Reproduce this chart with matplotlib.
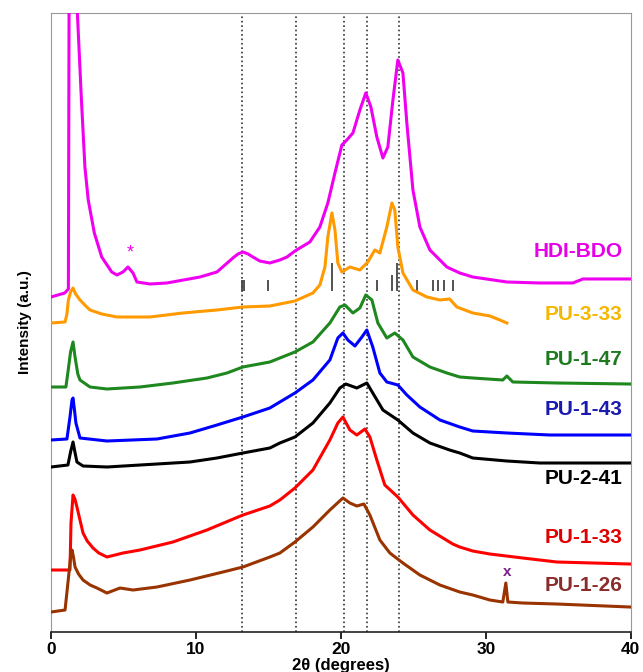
import numpy as np
import matplotlib.pyplot as plt

plt.rcParams['font.family'] = ['Liberation Sans', 'DejaVu Sans']

# patterns: 2theta (deg) and stacked intensity (a.u.)
hdi_x = [0.0, 0.95, 1.2, 1.26, 1.5, 1.75, 1.82, 2.1, 2.34, 2.57, 2.99, 3.5, 4.19, 4.55, 4.97,
         5.31, 5.66, 5.93, 6.83, 8.0, 10.28, 11.45, 12.55, 12.9, 13.24, 13.6, 13.93, 14.4,
         15.1, 15.79, 16.28, 16.83, 17.86, 18.55, 19.1, 19.59, 20.07, 20.41, 20.83, 21.31,
         21.72, 22.07, 22.48, 22.9, 23.24, 23.59, 23.93, 24.28, 24.55, 24.97, 25.45, 26.14,
         27.31, 28.2, 29.1, 31.45, 33.72, 36.0, 36.7, 39.95]
hdi_y = [335, 339, 343, 700, 900, 700, 619, 532, 465, 432, 399, 375, 360, 357, 360,
         365, 359, 350, 348, 349, 355, 360, 374, 378, 380, 378, 375, 371,
         369, 372, 375, 381, 390, 405, 429, 459, 487, 492, 499, 522,
         539, 525, 495, 474, 485, 532, 572, 559, 509, 442, 405, 382,
         365, 359, 355, 350, 349, 349, 353, 353]

pu333_x = [0.0, 0.97, 1.1, 1.2, 1.35, 1.52, 1.7, 2.0, 2.4, 2.69, 3.5, 4.55, 6.83, 9.1, 11.45,
           13.24, 15.1, 15.79, 16.83, 18.07, 18.55, 18.9, 19.1, 19.38, 19.59, 19.79, 20.07,
           20.62, 21.31, 21.86, 22.34, 22.69, 23.17, 23.52, 23.72, 23.93, 24.28, 24.97, 25.93,
           26.83, 27.5, 28.0, 29.1, 30.28, 30.97, 31.45]
pu333_y = [309, 310, 318, 332, 340, 344, 338, 332, 326, 322, 318, 315, 315, 319, 322,
           325, 326, 328, 331, 339, 347, 365, 395, 419, 402, 369, 360,
           365, 362, 370, 382, 379, 405, 429, 422, 385, 359, 342, 335,
           332, 333, 325, 319, 316, 312, 309]

pu147_x = [0.0, 1.03, 1.17, 1.35, 1.52, 1.66, 1.85, 2.0, 2.69, 3.86, 6.14, 8.41, 10.76, 12.14,
           13.24, 15.1, 15.79, 16.83, 18.07, 19.24, 19.93, 20.28, 20.83, 21.31, 21.72, 22.14,
           22.55, 23.17, 23.72, 24.28, 24.97, 26.14, 27.31, 28.2, 29.1, 31.17, 31.45, 31.86,
           34.9, 39.95]
pu147_y = [245, 245, 260, 280, 290, 275, 258, 252, 245, 243, 245, 249, 254, 259,
           265, 270, 274, 280, 290, 309, 325, 327, 319, 324, 337, 332,
           309, 294, 299, 292, 275, 265, 259, 255, 254, 252, 256, 250,
           249, 248]

pu143_x = [0.0, 1.1, 1.31, 1.45, 1.52, 1.62, 1.72, 2.0, 3.86, 7.31, 9.59, 11.45, 13.24, 15.1,
           15.79, 16.83, 18.07, 19.24, 19.79, 20.14, 20.48, 20.97, 21.45, 21.79, 22.2, 22.69,
           23.17, 23.93, 24.55, 25.45, 26.83, 28.2, 29.1, 31.45, 34.41, 39.95]
pu143_y = [192, 193, 215, 232, 234, 222, 209, 194, 191, 193, 199, 207, 215, 224,
           230, 239, 252, 272, 294, 299, 292, 286, 295, 302, 285, 259,
           250, 247, 237, 225, 212, 205, 201, 199, 197, 197]

pu241_x = [0.0, 1.17, 1.35, 1.52, 1.65, 1.79, 2.21, 3.86, 7.31, 9.59, 11.45, 13.24, 15.1,
           15.79, 16.83, 18.07, 19.24, 19.93, 20.34, 21.1, 21.79, 22.2, 22.9, 23.93, 24.97,
           26.14, 27.5, 28.2, 29.1, 31.45, 33.72, 39.95]
pu241_y = [165, 167, 180, 190, 180, 170, 166, 165, 168, 170, 174, 179, 184,
           189, 195, 209, 229, 244, 248, 244, 249, 239, 222, 212, 199,
           189, 182, 179, 174, 171, 169, 169]

pu133_x = [0.0, 1.31, 1.38, 1.52, 1.65, 1.79, 2.0, 2.21, 2.5, 2.9, 3.3, 3.86, 4.97, 6.14, 8.41,
           10.76, 13.24, 15.1, 15.79, 16.83, 18.07, 19.24, 19.79, 20.14, 20.62, 21.1, 21.66,
           22.0, 22.48, 23.03, 23.93, 24.97, 26.14, 27.72, 28.2, 29.1, 30.28, 32.55, 34.9, 39.95]
pu133_y = [62, 62, 109, 137, 133, 125, 112, 99, 91, 84, 79, 75, 79, 82, 90,
           102, 117, 126, 132, 144, 162, 192, 209, 215, 202, 197, 203,
           195, 172, 147, 135, 117, 102, 88, 85, 81, 78, 74, 70, 68]

pu126_x = [0.0, 0.97, 1.24, 1.35, 1.45, 1.55, 1.66, 1.9, 2.21, 2.7, 3.17, 3.86, 4.76, 5.66,
           7.31, 9.59, 11.86, 13.24, 15.1, 15.79, 16.83, 18.07, 19.24, 20.14, 20.62, 21.1,
           21.59, 22.0, 22.69, 23.38, 24.28, 25.45, 26.83, 28.2, 29.1, 30.28, 31.17, 31.38,
           31.52, 32.55, 34.9, 39.95]
pu126_y = [20, 22, 59, 75, 82, 75, 65, 58, 52, 47, 44, 39, 44, 42,
           45, 52, 60, 65, 75, 79, 90, 105, 122, 134, 129, 126,
           128, 117, 92, 79, 69, 57, 47, 40, 37, 32, 30, 49,
           30, 29, 28, 25]

series = [
    (hdi_x, hdi_y, '#f000f0', 'HDI-BDO', '#e600e6', 380),
    (pu333_x, pu333_y, '#ff9a00', 'PU-3-33', '#f5b800', 317),
    (pu147_x, pu147_y, '#1e871e', 'PU-1-47', '#1e7a1e', 272),
    (pu143_x, pu143_y, '#0000ff', 'PU-1-43', '#1a1ab0', 222),
    (pu241_x, pu241_y, '#000000', 'PU-2-41', '#000000', 154),
    (pu133_x, pu133_y, '#ff0000', 'PU-1-33', '#e00000', 95),
    (pu126_x, pu126_y, '#993300', 'PU-1-26', '#8b2c2c', 47),
]

# guide lines and HDI-BDO reflection positions
guide_lines = [13.2, 16.9, 20.2, 21.8, 24.0]
refl_pos = [13.15, 13.3, 15.0, 19.4, 22.5, 23.5, 23.9, 25.25, 26.35, 26.7, 27.1, 27.75]
refl_top = [352, 352, 352, 369, 352, 357, 369, 352, 352, 352, 352, 352]

fig = plt.figure(figsize=(6.43, 6.72), dpi=100)
ax = fig.add_axes([0.0793, 0.0595, 0.9017, 0.9212])

for gx in guide_lines:
    ax.axvline(gx, color='#333333', ls=':', lw=1.2, zorder=1)

ax.vlines(refl_pos, 341, refl_top, color='#444444', lw=1.3, zorder=2)

for x, y, c, name, tc, ty in series:
    ax.plot(x, y, color=c, lw=2.2, zorder=3, solid_joinstyle='round')
    ax.text(39.45, ty, name, color=tc, fontsize=15, fontweight='bold',
            ha='right', va='center')

ax.text(5.45, 379, '*', color='#f000f0', fontsize=13, ha='center', va='center')
ax.text(31.45, 60, 'x', color='#7a1f8a', fontsize=11, fontweight='bold',
        ha='center', va='center')

ax.set_xlim(0, 40)
ax.set_ylim(0, 619)
ax.set_xticks([0, 10, 20, 30, 40])
ax.set_yticks([])
ax.tick_params(axis='x', direction='out', length=5, width=1.2, pad=2, labelsize=12.5)
for lab in ax.get_xticklabels():
    lab.set_fontweight('bold')
for s in ['left', 'top', 'right']:
    ax.spines[s].set_color('#999999')
ax.spines['bottom'].set_color('#222222')
ax.spines['bottom'].set_linewidth(1.2)

ax.set_xlabel('2θ (degrees)', fontsize=12, fontweight='bold', labelpad=1)
ax.set_ylabel('Intensity (a.u.)', fontsize=11, fontweight='bold', labelpad=14)

fig.savefig('out.png', dpi=100)
